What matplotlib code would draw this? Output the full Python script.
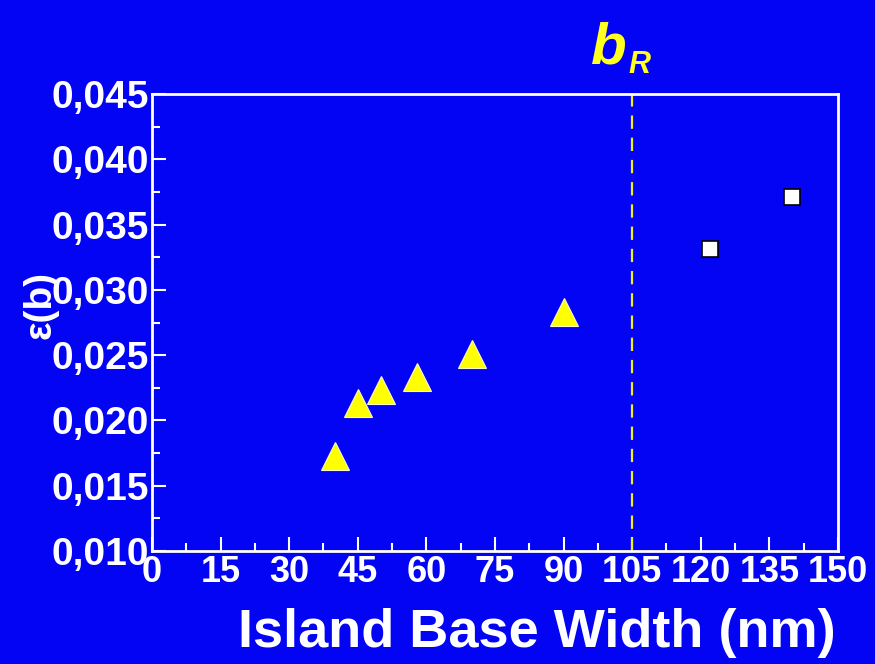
import numpy as np
import matplotlib.pyplot as plt
from matplotlib.ticker import MultipleLocator

plt.rcParams['font.family'] = ['Liberation Sans', 'DejaVu Sans']

# island base width (nm) and strain values
tri_x = [40, 45, 50, 58, 70, 90]
tri_y = [0.0173, 0.0213, 0.0223, 0.0233, 0.0251, 0.0283]
sq_x = [122, 140]
sq_y = [0.0331, 0.0371]
b_r = 105

bg = '#0404f4'
fig = plt.figure(figsize=(8.75, 6.64), dpi=100, facecolor=bg)
ax = fig.add_axes([0.1737, 0.1702, 0.9577 - 0.1737, 0.8584 - 0.1702])
ax.set_facecolor(bg)

ax.axvline(b_r, color='#f0f020', ls=(0, (6, 4)), lw=1.6)
ax.plot(tri_x, tri_y, '^', ms=20, color='#ffff00', mec='#f8f8d0', mew=0.8)
ax.plot(sq_x, sq_y, 's', ms=11, color='white', mec='black', mew=1.2)

ax.set_xlim(0, 150)
ax.set_ylim(0.010, 0.045)
ax.xaxis.set_major_locator(MultipleLocator(15))
ax.xaxis.set_minor_locator(MultipleLocator(7.5))
ax.yaxis.set_major_locator(MultipleLocator(0.005))
ax.yaxis.set_minor_locator(MultipleLocator(0.0025))

def yfmt(v, pos):
    return ('%.3f' % v).replace('.', ',')
ax.yaxis.set_major_formatter(plt.FuncFormatter(yfmt))

for s in ax.spines.values():
    s.set_color('white')
    s.set_linewidth(2)
ax.tick_params(which='both', direction='in', colors='white', width=1.5)
ax.tick_params(which='major', length=10)
ax.tick_params(which='minor', length=6)
ax.tick_params(axis='x', labelsize=26, pad=3)
ax.tick_params(axis='y', labelsize=28, pad=2)
for lb in ax.get_xticklabels() + ax.get_yticklabels():
    lb.set_fontweight('bold')

fig.text(0.613, 0.047, 'Island Base Width (nm)', fontsize=39, fontweight='bold', color='white',
         ha='center', va='center')
fig.text(0.046, 0.54, 'ε(b)', rotation=90, fontsize=28, fontweight='bold', color='white',
         ha='center', va='center')

fig.text(0.676, 0.905, 'b', fontsize=42, fontweight='bold', style='italic', color='#ffff20',
         ha='left', va='baseline')
fig.text(0.718, 0.89, 'R', fontsize=22, fontweight='bold', style='italic', color='#ffff20',
         ha='left', va='baseline')

fig.savefig('out.png', dpi=100, facecolor=bg)
